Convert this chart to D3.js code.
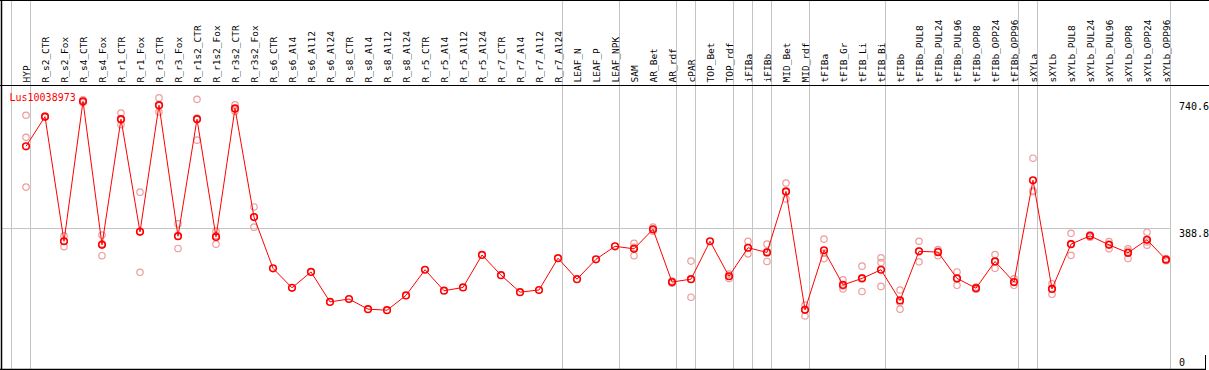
<!DOCTYPE html>
<html>
<head>
<meta charset="utf-8">
<script src="https://cdn.jsdelivr.net/npm/d3@7"></script>
<style>
  body { margin: 0; background: #fff; }
  svg { display: block; font-family: "DejaVu Sans Mono", monospace; }
</style>
</head>
<body>
<script>
const geneName = 'Lus10038973';

const samples = ['HYP', 'R_s2_CTR', 'R_s2_Fox', 'R_s4_CTR', 'R_s4_Fox', 'R_r1_CTR', 'R_r1_Fox', 'R_r3_CTR', 'R_r3_Fox',
  'R_r1s2_CTR', 'R_r1s2_Fox', 'R_r3s2_CTR', 'R_r3s2_Fox', 'R_s6_CTR', 'R_s6_Al4', 'R_s6_Al12', 'R_s6_Al24',
  'R_s8_CTR', 'R_s8_Al4', 'R_s8_Al12', 'R_s8_Al24', 'R_r5_CTR', 'R_r5_Al4', 'R_r5_Al12', 'R_r5_Al24',
  'R_r7_CTR', 'R_r7_Al4', 'R_r7_Al12', 'R_r7_Al24', 'LEAF_N', 'LEAF_P', 'LEAF_NPK', 'SAM', 'AR_Bet', 'AR_rdf',
  'cPAR', 'TOP_Bet', 'TOP_rdf', 'iFIBa', 'iFIBb', 'MID_Bet', 'MID_rdf', 'tFIBa', 'tFIB_Gr', 'tFIB_Li', 'tFIB_Bi',
  'tFIBb', 'tFIBb_PUL8', 'tFIBb_PUL24', 'tFIBb_PUL96', 'tFIBb_OPP8', 'tFIBb_OPP24', 'tFIBb_OPP96',
  'sXYLa', 'sXYLb', 'sXYLb_PUL8', 'sXYLb_PUL24', 'sXYLb_PUL96', 'sXYLb_OPP8', 'sXYLb_OPP24', 'sXYLb_OPP96'];

// mean expression per sample
const means = [616, 698, 353, 740.6, 343, 691, 379, 730, 367,
  691, 365, 721, 420, 278, 224, 268, 185,
  193, 165, 162, 203, 274, 216, 225, 315,
  259, 212, 218, 306, 248, 303, 339, 332, 386, 240,
  248, 353, 256, 335, 322, 491, 163, 328, 232, 250, 274,
  189, 325, 323, 250, 223, 297, 240,
  522, 221, 345, 368, 343, 321, 357, 302];

// replicate values (empty = single sample)
const replicates = [[702, 641, 503], [700, 697, 698], [368, 353, 338], [745, 740, 737], [370, 346, 313],
  [708, 689, 676], [489, 381, 267], [750, 729, 711], [401, 367, 333], [746, 694, 633], [381, 369, 345],
  [731, 719, 713], [448, 420, 392], [], [], [], [], [], [], [], [], [], [], [], [], [], [], [], [],
  [], [], [], [347, 336, 313], [392, 386, 381], [243, 240, 237], [298, 248, 198], [], [262, 256, 250],
  [353, 335, 318], [345, 324, 297], [514, 489, 470], [176, 164, 146], [359, 320, 305], [246, 229, 221],
  [284, 252, 214], [307, 294, 228], [218, 184, 165], [353, 326, 296], [330, 326, 313], [268, 251, 231],
  [226, 223, 220], [316, 297, 278], [249, 240, 231], [583, 493, 490], [235, 222, 206], [375, 346, 314],
  [371, 369, 364], [352, 345, 332], [332, 326, 305], [378, 351, 342], [305, 302, 299]];

// samples that close a group (a separator follows them)
const groupEnds = ['HYP', 'R_r7_Al24', 'LEAF_NPK', 'AR_rdf', 'cPAR', 'TOP_rdf', 'iFIBa', 'iFIBb', 'MID_rdf',
  'tFIB_Bi', 'tFIBb_OPP96', 'sXYLa', 'sXYLb_OPP96'];

const yTicks = [0, 388.8, 740.6];

const width = 1209, height = 370;
const headerY = 85, bottomY = 369;

const svg = d3.select('body').append('svg')
  .attr('width', width)
  .attr('height', height);

const x = d3.scalePoint().domain(samples).range([26, 1166]);
const y = d3.scaleLinear().domain([0, 740.6]).range([368.7, 101.3]);
const half = x.step() * 0.235;

// separators
const sepX = [x(samples[0]) - x.step() * 0.8].concat(groupEnds.map(s => x(s) + half));
svg.append('g').selectAll('line')
  .data(sepX)
  .enter().append('line')
  .attr('x1', d => Math.round(d) + 0.5)
  .attr('x2', d => Math.round(d) + 0.5)
  .attr('y1', 0)
  .attr('y2', bottomY)
  .attr('stroke', '#c4c4c4');

// horizontal reference line
svg.append('line')
  .attr('x1', 1.5).attr('x2', x(samples[samples.length - 1]) + half)
  .attr('y1', Math.round(y(388.8)) + 0.5).attr('y2', Math.round(y(388.8)) + 0.5)
  .attr('stroke', '#c4c4c4');

// frame
svg.append('line').attr('x1', 0).attr('x2', width).attr('y1', 0.5).attr('y2', 0.5).attr('stroke', '#000');
svg.append('line').attr('x1', 0).attr('x2', width).attr('y1', headerY + 0.5).attr('y2', headerY + 0.5).attr('stroke', '#000').attr('stroke-width', 1.2);
svg.append('line').attr('x1', 0).attr('x2', 1206).attr('y1', bottomY + 0.5).attr('y2', bottomY + 0.5).attr('stroke', '#000').attr('stroke-width', 1.5);
svg.append('line').attr('x1', 1.5).attr('x2', 1.5).attr('y1', 0).attr('y2', bottomY).attr('stroke', '#000').attr('stroke-width', 1.5);
svg.append('line').attr('x1', 1205.5).attr('x2', 1205.5).attr('y1', bottomY - 14).attr('y2', bottomY).attr('stroke', '#000');

// sample labels
svg.append('g').selectAll('text')
  .data(samples)
  .enter().append('text')
  .attr('transform', d => `translate(${x(d) + 3.6},${headerY - 2.5}) rotate(-90)`)
  .attr('font-size', '9.5px')
  .attr('fill', '#000')
  .text(d => d);

// right axis labels
svg.append('g').selectAll('text')
  .data(yTicks)
  .enter().append('text')
  .attr('x', 1179)
  .attr('y', d => Math.min(y(d) + 8.8, 365.5))
  .attr('font-size', '10px')
  .attr('fill', '#000')
  .text(d => d);

// gene name
svg.append('text')
  .attr('x', 9.5)
  .attr('y', 100.5)
  .attr('font-size', '10px')
  .attr('fill', '#ff0000')
  .text(geneName);

// replicate points
const repData = [];
replicates.forEach((r, i) => r.forEach(v => repData.push({ s: samples[i], v })));
svg.append('g').selectAll('circle')
  .data(repData)
  .enter().append('circle')
  .attr('cx', d => x(d.s))
  .attr('cy', d => y(d.v))
  .attr('r', 3.2)
  .attr('fill', 'none')
  .attr('stroke', '#ee9b9b')
  .attr('stroke-width', 1.2);

// mean line
const line = d3.line().x((d, i) => x(samples[i])).y(d => y(d));
svg.append('path')
  .datum(means)
  .attr('d', line)
  .attr('fill', 'none')
  .attr('stroke', '#ff0000')
  .attr('stroke-width', 1);

// mean points
svg.append('g').selectAll('circle')
  .data(means)
  .enter().append('circle')
  .attr('cx', (d, i) => x(samples[i]))
  .attr('cy', d => y(d))
  .attr('r', 3.3)
  .attr('fill', 'none')
  .attr('stroke', '#ff0000')
  .attr('stroke-width', 1.6);
</script>
</body>
</html>
